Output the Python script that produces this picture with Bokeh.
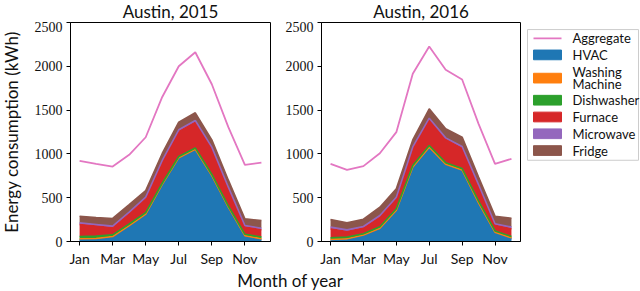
import numpy as np
from bokeh.plotting import figure
from bokeh.layouts import column, row
from bokeh.models import ColumnDataSource, FixedTicker
from bokeh.core.properties import value
from bokeh.embed import file_html
from bokeh.resources import INLINE

months = list(range(1, 13))
tick_months = [1, 3, 5, 7, 9, 11]
tick_labels = ["Jan", "Mar", "May", "Jul", "Sep", "Nov"]
y_ticks = [0, 500, 1000, 1500, 2000, 2500]

keys = ["hvac", "washing", "dish", "furnace", "micro", "fridge"]
colors = ["#1f77b4", "#ff7f0e", "#2ca02c", "#d62728", "#9467bd", "#8c564b"]
agg_color = "#e377c2"
legend_labels = ["Aggregate", "HVAC", "Washing Machine", "Dishwasher", "Furnace", "Microwave", "Fridge"]
titles = ["Austin, 2015", "Austin, 2016"]

# ---- Austin 2015 ----
aggregate_2015 = [920, 885, 855, 990, 1190, 1650, 2000, 2160, 1795, 1305, 875, 900]
hvac_2015 = [20, 22, 45, 170, 300, 640, 945, 1040, 740, 380, 55, 20]
washing_2015 = [12, 12, 12, 12, 12, 12, 12, 12, 12, 12, 12, 12]
dish_2015 = [25, 27, 19, 18, 18, 13, 13, 16, 13, 13, 15, 20]
furnace_2015 = [138, 115, 81, 117, 158, 242, 287, 295, 294, 197, 83, 82]
micro_2015 = [18, 18, 18, 18, 18, 18, 18, 18, 18, 18, 18, 18]
fridge_2015 = [76, 80, 88, 85, 76, 80, 87, 88, 83, 80, 76, 88]

# ---- Austin 2016 ----
aggregate_2016 = [887, 818, 860, 1008, 1248, 1914, 2226, 1960, 1849, 1343, 887, 944]
hvac_2016 = [12, 20, 62, 140, 345, 840, 1065, 870, 805, 430, 95, 30]
washing_2016 = [12, 12, 12, 12, 12, 12, 12, 12, 12, 12, 12, 12]
dish_2016 = [18, 18, 14, 16, 16, 16, 19, 18, 15, 20, 13, 15]
furnace_2016 = [104, 65, 65, 111, 115, 194, 294, 265, 234, 170, 64, 89]
micro_2016 = [18, 18, 18, 18, 18, 18, 18, 18, 18, 18, 18, 18]
fridge_2016 = [87, 80, 84, 95, 95, 80, 106, 104, 107, 85, 87, 102]

SANS = "Lato"
SERIF = "serif"
TXT = "#111111"

# layout (pixels)
TOTAL_H = 291
TOP_H = 21
ROW_H = 248
BOT_H = TOTAL_H - TOP_H - ROW_H
YL_W = 22
P1_W, P1_L, P1_R = 250, 48, 2
P2_W, P2_L, P2_R = 250, 49, 2
LEG_W = 640 - YL_W - P1_W - P2_W
B_TOP, B_BOT = 1, 28
RIGHT_W = 640 - YL_W


def strip(w, h):
    s = figure(width=w, height=h, x_range=(0, w), y_range=(0, h),
               output_backend="svg", toolbar_location=None,
               x_axis_type=None, y_axis_type=None, min_border=0)
    s.grid.visible = False
    s.outline_line_color = None
    return s


def make_panel(agg, layers, width, min_left, min_right):
    p = figure(width=width, height=ROW_H, x_range=(0.45, 12.55), y_range=(0, 2500),
               output_backend="svg", toolbar_location=None,
               min_border_left=min_left, min_border_right=min_right,
               min_border_top=B_TOP, min_border_bottom=B_BOT)
    p.grid.visible = False
    p.outline_line_color = "black"
    p.outline_line_width = 1
    p.outline_line_alpha = 1

    p.line(months, agg, color=agg_color, line_width=1.8)

    data = dict(x=months)
    for k, vals in zip(keys, layers):
        data[k] = vals
    src = ColumnDataSource(data)
    p.varea_stack(stackers=keys, x="x", color=colors, source=src)

    tops = np.cumsum(np.array(layers, dtype=float), axis=0)
    for i in range(len(keys)):
        p.line(months, tops[i], color=colors[i], line_width=1.6)

    p.xaxis.ticker = FixedTicker(ticks=tick_months)
    p.xaxis.major_label_overrides = {m: l for m, l in zip(tick_months, tick_labels)}
    p.yaxis.ticker = FixedTicker(ticks=y_ticks)
    for ax in (p.xaxis[0], p.yaxis[0]):
        ax.axis_line_color = "black"
        ax.major_tick_line_color = "black"
        ax.major_tick_out = 4
        ax.major_tick_in = 0
        ax.minor_tick_out = 0
        ax.minor_tick_in = 0
        ax.major_label_text_color = TXT
    p.xaxis[0].major_label_text_font = SANS
    p.xaxis[0].major_label_text_font_size = "14px"
    p.xaxis[0].major_label_standoff = 4
    p.yaxis[0].major_label_text_font = SERIF
    p.yaxis[0].major_label_text_font_size = "14px"
    p.yaxis[0].major_label_standoff = 4
    return p


p1 = make_panel(aggregate_2015,
                [hvac_2015, washing_2015, dish_2015, furnace_2015, micro_2015, fridge_2015],
                P1_W, P1_L, P1_R)
p2 = make_panel(aggregate_2016,
                [hvac_2016, washing_2016, dish_2016, furnace_2016, micro_2016, fridge_2016],
                P2_W, P2_L, P2_R)

# ---- titles strip ----
top = strip(RIGHT_W, TOP_H)
c1 = P1_L + (P1_W - P1_L - P1_R) / 2
c2 = P1_W + P2_L + (P2_W - P2_L - P2_R) / 2
top.text(x=[c1, c2], y=[TOP_H - 10.5, TOP_H - 10.5], text=titles,
         text_align="center", text_baseline="middle",
         text_font=value(SANS), text_font_size="17px", text_color=TXT)

# ---- y label strip (full height) ----
yl = strip(YL_W, TOTAL_H)
frame_mid_window = TOP_H + B_TOP + (ROW_H - B_TOP - B_BOT) / 2
yl.text(x=[11], y=[TOTAL_H - frame_mid_window], text=["Energy consumption (kWh)"],
        angle=np.pi / 2, text_align="center", text_baseline="middle",
        text_font=value(SANS), text_font_size="17px", text_color=TXT)

# ---- legend strip ----
leg = strip(LEG_W, ROW_H)
box_l, box_r, box_t = 5, LEG_W - 2, ROW_H - 8
leg.quad(left=[box_l], right=[box_r], top=[box_t], bottom=[box_t - 148],
         fill_color="white", line_color="#cccccc", line_width=1)
row_y = [box_t - 10, box_t - 28.7, box_t - 55, box_t - 80, box_t - 99, box_t - 118, box_t - 137]
g_l, g_r, lab_x = 11, 39, 50
leg.line(x=[g_l, g_r], y=[row_y[0], row_y[0]], color=agg_color, line_width=1.8)
for i, c in enumerate(colors):
    yc = row_y[i + 1]
    leg.quad(left=[g_l], right=[g_r], top=[yc + 5.5], bottom=[yc - 5.5],
             fill_color=c, line_color=c, line_width=1)
for i, lab in enumerate(legend_labels):
    yc = row_y[i]
    parts = lab.split(" ") if lab == "Washing Machine" else [lab]
    if len(parts) == 2:
        leg.text(x=[lab_x, lab_x], y=[yc + 7, yc - 7], text=parts,
                 text_align="left", text_baseline="middle",
                 text_font=value(SANS), text_font_size="13px", text_color=TXT)
    else:
        leg.text(x=[lab_x], y=[yc], text=[lab], text_align="left", text_baseline="middle",
                 text_font=value(SANS), text_font_size="13px", text_color=TXT)

# ---- x label strip ----
bot = strip(RIGHT_W, BOT_H)
bot.text(x=[290 - YL_W], y=[BOT_H - 11], text=["Month of year"],
         text_align="center", text_baseline="middle",
         text_font=value(SANS), text_font_size="17px", text_color=TXT)

layout = row(yl, column(top, row(p1, p2, leg), bot))
open("out.html", "w").write(file_html(layout, INLINE))
